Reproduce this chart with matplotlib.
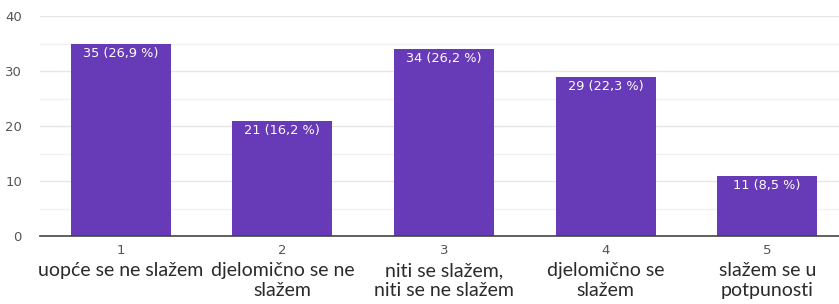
import matplotlib
matplotlib.use('Agg')
import matplotlib.pyplot as plt
import matplotlib.transforms as mtransforms

scale_points = ['1', '2', '3', '4', '5']
scale_names = ['uopće se ne slažem', 'djelomično se ne\nslažem',
               'niti se slažem,\nniti se ne slažem', 'djelomično se\nslažem',
               'slažem se u\npotpunosti']
counts = [35, 21, 34, 29, 11]
percents = ['26,9', '16,2', '26,2', '22,3', '8,5']

fig = plt.figure(figsize=(8.39, 3.04), dpi=100)
ax = fig.add_axes([40 / 839, 68 / 304, 808 / 839, 220 / 304])

x = list(range(len(counts)))
ax.bar(x, counts, width=0.62, color='#673ab7', zorder=3)

ax.set_xlim(-0.5, 4.5)
ax.set_ylim(0, 40)
ax.set_yticks([0, 10, 20, 30, 40])
ax.set_yticks([5, 15, 25, 35], minor=True)
ax.grid(axis='y', which='major', color='#e6e6e6', lw=1, zorder=0)
ax.grid(axis='y', which='minor', color='#f2f2f2', lw=1, zorder=0)
ax.tick_params(axis='y', which='both', length=0, labelsize=9.5, labelcolor='#555555', pad=13)
ax.tick_params(axis='x', length=0)
ax.set_xticks([])
for s in ['top', 'right', 'left']:
    ax.spines[s].set_visible(False)
ax.spines['bottom'].set_color('#444444')
ax.spines['bottom'].set_linewidth(1.2)
ax.spines['bottom'].set_zorder(4)

for xi, c, p in zip(x, counts, percents):
    ax.annotate(f'{c} ({p} %)', (xi, c), xytext=(0, -2.5), textcoords='offset points',
                ha='center', va='top', color='white', fontsize=9.3, zorder=5)

trans = mtransforms.blended_transform_factory(ax.transData, fig.transFigure)
for xi, num, name in zip(x, scale_points, scale_names):
    fig.text(xi, 1 - 250 / 304, num, transform=trans, ha='center', va='center',
             fontsize=9.5, color='#555555')
    fig.text(xi, 1 - 262 / 304, name, transform=trans, ha='center', va='top',
             fontsize=14, color='#2a2a2a', family='Lato', linespacing=1.2)

fig.savefig('out.png', dpi=100)
